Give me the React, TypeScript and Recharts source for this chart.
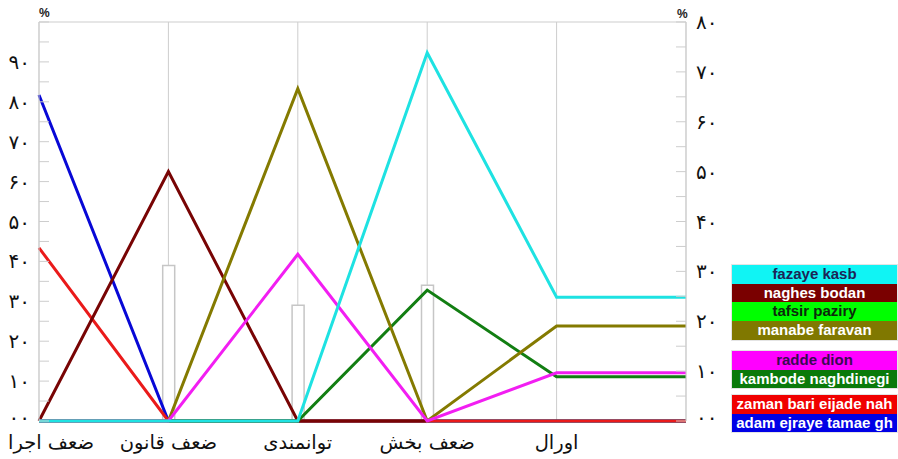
import React from 'react';
import { ComposedChart, Line, Bar, XAxis, YAxis, CartesianGrid, ReferenceLine } from 'recharts';

// categories along the bottom (last one is the right-hand axis)
const categories = ['ضعف اجرا', 'ضعف قانون', 'توانمندی', 'ضعف بخش', 'اورال', ''];

const fazayeKasb = [0, 0, 0, 92.3, 31, 31];
const naghesBodan = [0, 62.5, 0, 0, null, null];
const tafsirPaziry = [0, 0, 0, 0, 0, 0];
const manabeFaravan = [0, 0, 83.3, 0, 23.8, 23.8];
const raddeDion = [0, 0, 41.8, 0, 12.1, 12.1];
const kambodeNaghdinegi = [0, 0, 0, 32.8, 11.1, 11.1];
const zamanBari = [43.4, 0, 0, 0, 0, 0];
const adamEjraye = [81.7, 0, 0, 0, 0, 0];

// grey boxes behind the lines
const boxTops = [null, 39, 29, 34, null, null];

const xTicks = [0, 1, 2, 3, 4];
const leftTicks = [0, 5, 10, 15, 20, 25, 30, 35, 40, 45, 50, 55, 60, 65, 70, 75, 80, 85, 90, 95, 100];
const rightTicks = [0, 5, 10, 15, 20, 25, 30, 35, 40, 45, 50, 55, 60, 65, 70, 75, 80];
const leftTickLabels = ['۰۰', '۱۰', '۲۰', '۳۰', '۴۰', '۵۰', '۶۰', '۷۰', '۸۰', '۹۰'];
const rightTickLabels = ['۰۰', '۱۰', '۲۰', '۳۰', '۴۰', '۵۰', '۶۰', '۷۰', '۸۰'];

const series = [
  { key: 'fazaye', name: 'fazaye kasb', color: '#1ee2e2', box: '#10f4f4', text: '#1c2456', values: fazayeKasb },
  { key: 'naghes', name: 'naghes bodan', color: '#780404', box: '#7a0000', text: '#ffffff', values: naghesBodan },
  { key: 'tafsir', name: 'tafsir paziry', color: '#00ee00', box: '#00ff00', text: '#0c2a0c', values: tafsirPaziry },
  { key: 'manabe', name: 'manabe faravan', color: '#847a00', box: '#807800', text: '#ffffff', values: manabeFaravan },
  { key: 'radde', name: 'radde dion', color: '#f21ef2', box: '#ff00ff', text: '#3a0a52', values: raddeDion },
  { key: 'kambode', name: 'kambode naghdinegi', color: '#127e12', box: '#0a7a0a', text: '#ffffff', values: kambodeNaghdinegi },
  { key: 'zaman', name: 'zaman bari eijade nah', color: '#ea1a1a', box: '#f00000', text: '#ffffff', values: zamanBari },
  { key: 'adam', name: 'adam ejraye tamae gh', color: '#0808d6', box: '#0000e6', text: '#ffffff', values: adamEjraye },
];

const legendGroups = [
  ['fazaye', 'naghes', 'tafsir', 'manabe'],
  ['radde', 'kambode'],
  ['zaman', 'adam'],
];

// bottom-most first
const drawOrder = ['tafsir', 'adam', 'zaman', 'naghes', 'kambode', 'manabe', 'radde', 'fazaye'];

const data = categories.map((c, i) => {
  const row: any = { idx: i, name: c, box: boxTops[i] };
  series.forEach(s => { row[s.key] = s.values[i]; });
  return row;
});

const AXIS_GREY = '#cdcdcd';
const FA_FONT = '"DejaVu Sans", sans-serif';

const XTick = (props: any) => {
  const { x, y, payload } = props;
  const first = payload.value === 0;
  return (
    <text x={first ? 8 : x} y={y + 28} textAnchor={first ? 'start' : 'middle'} fontSize={19.5} fontFamily={FA_FONT} fill="#111">
      {categories[payload.value]}
    </text>
  );
};

const LeftTick = (props: any) => {
  const { x, y, payload } = props;
  const v = payload.value;
  const label = v % 10 === 0 && v < 100 ? leftTickLabels[v / 10] : null;
  return (
    <g>
      <line x1={x} x2={x + 10} y1={y} y2={y} stroke={AXIS_GREY} />
      {label && (
        <text x={x - 9} y={v === 0 ? y + 3 : y + 7} textAnchor="end" fontSize={20} fontFamily={FA_FONT} fill="#111">{label}</text>
      )}
    </g>
  );
};

const RightTick = (props: any) => {
  const { x, y, payload } = props;
  const v = payload.value;
  const label = v % 10 === 0 ? rightTickLabels[v / 10] : null;
  return (
    <g>
      <line x1={x - 10} x2={x} y1={y} y2={y} stroke={AXIS_GREY} />
      {label && (
        <text x={x + 10} y={v === 0 ? y + 3 : y + 7} textAnchor="start" fontSize={20} fontFamily={FA_FONT} fill="#111">{label}</text>
      )}
    </g>
  );
};

const LegendBox = () => {
  const tops = [265, 351, 395];
  return (
    <>
      {legendGroups.map((g, gi) => (
        <div key={gi} style={{ position: 'absolute', left: 732, top: tops[gi], width: 165, boxShadow: '0 0 0 1px #e4e4e4' }}>
          {g.map(k => {
            const s = series.find(x => x.key === k)!;
            return (
              <div key={k} style={{
                height: 18.7, lineHeight: '18.7px', background: s.box, color: s.text,
                fontFamily: '"Liberation Sans", Arial, sans-serif', fontWeight: 'bold', fontSize: 15,
                textAlign: 'center', whiteSpace: 'nowrap', overflow: 'hidden',
              }}>
                {s.name}
              </div>
            );
          })}
        </div>
      ))}
    </>
  );
};

export default function App() {
  const lines = drawOrder.map(k => series.find(s => s.key === k)!);
  return (
    <div style={{ position: 'absolute', left: 0, top: 0, width: 898, height: 459, background: '#fff' }}>
      <ComposedChart width={898} height={459} data={data} margin={{ top: 22, right: 172, bottom: 0, left: 0 }}>
        <CartesianGrid horizontal={false} stroke={AXIS_GREY} strokeWidth={1} />
        <XAxis
          type="number" dataKey="idx" domain={[0, 5]} ticks={xTicks} interval={0}
          tickSize={0} tickMargin={0} tickLine={false} height={38}
          axisLine={false} tick={<XTick />}
        />
        <YAxis
          yAxisId="left" domain={[0, 100]} ticks={leftTicks} interval={0} width={39}
          tickSize={0} tickMargin={0} tickLine={false}
          axisLine={{ stroke: AXIS_GREY }} tick={<LeftTick />}
        />
        <YAxis
          yAxisId="right" orientation="right" type="number" domain={[0, 80]} ticks={rightTicks} interval={0} width={40}
          tickSize={0} tickMargin={0} tickLine={false} allowDataOverflow
          axisLine={{ stroke: AXIS_GREY }} tick={<RightTick />}
        />
        <ReferenceLine yAxisId="left" y={100} stroke={AXIS_GREY} />
        <ReferenceLine yAxisId="right" y={0} stroke="none" ifOverflow="extendDomain" />
        <ReferenceLine yAxisId="right" y={80} stroke="none" ifOverflow="extendDomain" />
        <Bar yAxisId="left" dataKey="box" barSize={12} fill="#ffffff" stroke="#c6c6c6" strokeWidth={1.5} isAnimationActive={false} />
        {lines.map(s => (
          <Line
            key={s.key} yAxisId="left" type="linear" dataKey={s.key} name={s.name}
            stroke={s.color} strokeWidth={3} dot={false} activeDot={false}
            isAnimationActive={false}
          />
        ))}
      </ComposedChart>
      <div style={{ position: 'absolute', left: 39, top: 6, fontFamily: 'Arial, sans-serif', fontWeight: 'bold', fontSize: 12, color: '#222' }}>%</div>
      <div style={{ position: 'absolute', left: 677, top: 7, fontFamily: 'Arial, sans-serif', fontWeight: 'bold', fontSize: 12, color: '#222' }}>%</div>
      <LegendBox />
    </div>
  );
}
